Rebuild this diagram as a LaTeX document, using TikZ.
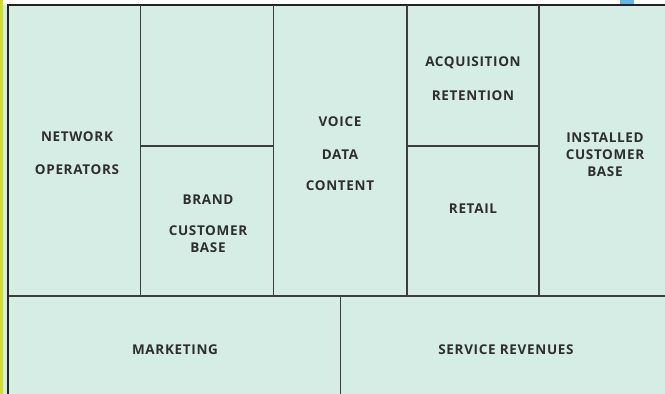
\documentclass[tikz,border=0pt]{standalone}
\usepackage{fontspec}
\setmainfont{Open Sans}[LetterSpace=5]
\usepackage{tikz}

\definecolor{canvasmint}{HTML}{D6EDE5}
\definecolor{edgeyellow}{HTML}{D3DC2C}
\definecolor{tabblue}{HTML}{6CB4E0}
\definecolor{framedark}{HTML}{232323}
\definecolor{gridgrey}{HTML}{3C3E3D}
\definecolor{labelgrey}{HTML}{2E2E2E}

\begin{document}
\begin{tikzpicture}[x=1pt,y=-1pt,
  gridline/.style={draw=gridgrey,line width=1.5pt},
  frameline/.style={draw=framedark,line width=2.2pt},
  lbl/.style={font=\bfseries\fontsize{13.5}{17}\selectfont,text=labelgrey,align=center,inner sep=0pt}]
\useasboundingbox (0,0) rectangle (665,394);
% background and edges
\fill[canvasmint] (3,5) rectangle (665,394);
\fill[edgeyellow] (0,0) rectangle (3,394);
\fill[tabblue] (620,0) rectangle (634,4);
\draw[frameline] (8,394) -- (8,5) -- (665,5);
% grid
\draw[gridline] (140.5,5) -- (140.5,296);
\draw[gridline] (273.5,5) -- (273.5,296);
\draw[gridline] (407,5) -- (407,296);
\draw[gridline] (539,5) -- (539,296);
\draw[gridline] (140.5,146) -- (273.5,146);
\draw[gridline] (407,146) -- (539,146);
\draw[gridline] (9,296) -- (665,296);
\draw[gridline] (340.5,296) -- (340.5,394);
% labels
\node[lbl] (network) at (77,137) {NETWORK};
\node[lbl] (operators) at (77,170) {OPERATORS};
\node[lbl] (brand) at (208,200) {BRAND};
\node[lbl] (custbase) at (208,239.5) {CUSTOMER\\BASE};
\node[lbl] (voice) at (340,122) {VOICE};
\node[lbl] (data) at (340,155) {DATA};
\node[lbl] (content) at (340,186) {CONTENT};
\node[lbl] (acquisition) at (473,63) {ACQUISITION};
\node[lbl] (retention) at (473,96) {RETENTION};
\node[lbl] (retail) at (473,209) {RETAIL};
\node[lbl] (installed) at (605,155) {INSTALLED\\CUSTOMER\\BASE};
\node[lbl] (marketing) at (175,350) {MARKETING};
\node[lbl] (revenues) at (506,350) {SERVICE REVENUES};
\end{tikzpicture}
\end{document}
